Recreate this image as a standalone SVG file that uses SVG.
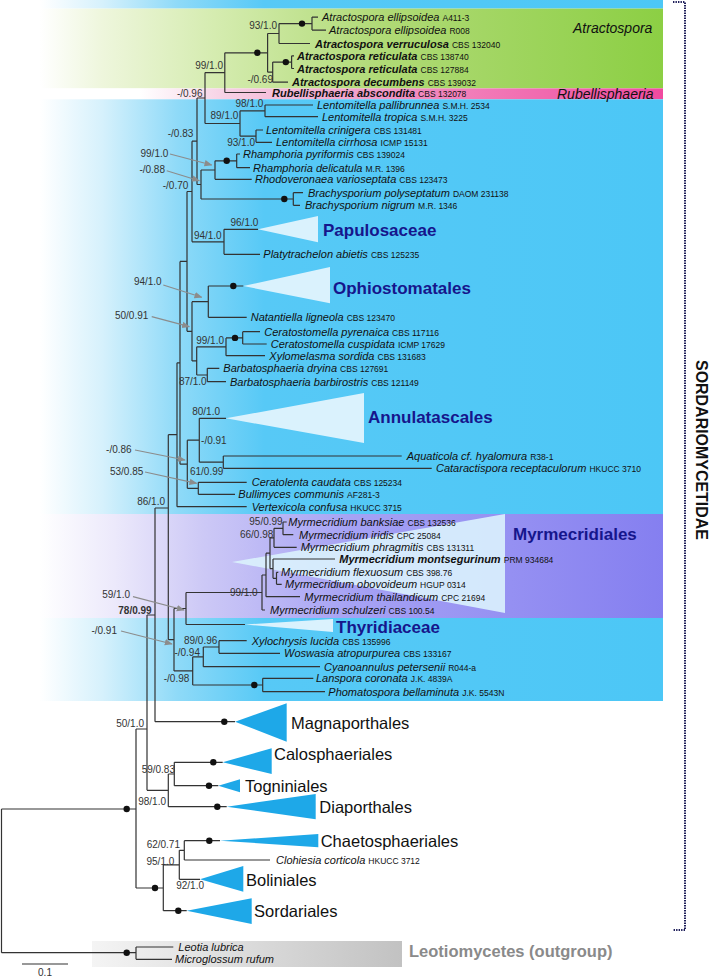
<svg xmlns="http://www.w3.org/2000/svg" width="709" height="976" viewBox="0 0 709 976">
<defs>
<linearGradient id="gBlue" gradientUnits="userSpaceOnUse" x1="40" y1="0" x2="663" y2="0">
<stop offset="0" stop-color="#ffffff"/><stop offset="0.1" stop-color="#d6f1fc"/><stop offset="0.22" stop-color="#8fdaf8"/><stop offset="0.36" stop-color="#57c9f6"/><stop offset="1" stop-color="#4cc7f6"/>
</linearGradient>
<linearGradient id="gGreen" gradientUnits="userSpaceOnUse" x1="40" y1="0" x2="663" y2="0">
<stop offset="0" stop-color="#ffffff"/><stop offset="0.1" stop-color="#eef6dc"/><stop offset="0.28" stop-color="#d5ecb0"/><stop offset="0.55" stop-color="#b0da76"/><stop offset="1" stop-color="#8ccf44"/>
</linearGradient>
<linearGradient id="gPink" gradientUnits="userSpaceOnUse" x1="40" y1="0" x2="663" y2="0">
<stop offset="0" stop-color="#ffffff"/><stop offset="0.16" stop-color="#ffffff"/><stop offset="0.3" stop-color="#f6d0e4"/><stop offset="0.6" stop-color="#f28cc0"/><stop offset="1" stop-color="#f04a9f"/>
</linearGradient>
<linearGradient id="gPurple" gradientUnits="userSpaceOnUse" x1="40" y1="0" x2="663" y2="0">
<stop offset="0" stop-color="#ffffff"/><stop offset="0.12" stop-color="#ece9fb"/><stop offset="0.26" stop-color="#cdc9f6"/><stop offset="0.5" stop-color="#a6a2f4"/><stop offset="1" stop-color="#857ff0"/>
</linearGradient>
<linearGradient id="gGray" gradientUnits="userSpaceOnUse" x1="92" y1="0" x2="402" y2="0">
<stop offset="0" stop-color="#f4f4f4"/><stop offset="1" stop-color="#c2c2c2"/>
</linearGradient>
<marker id="ah" viewBox="0 0 10 10" refX="9" refY="5" markerWidth="8" markerHeight="8" markerUnits="userSpaceOnUse" orient="auto">
<path d="M0,1 L10,5 L0,9 z" fill="#8c8c8c"/>
</marker>
</defs>
<style>
text{font-family:"Liberation Sans",Arial,sans-serif}
.br{fill:none;stroke:#333;stroke-width:1.2}
.dot{fill:#111}
.sp{font-size:11px;font-style:italic;fill:#111}
.cd{font-size:8.5px;font-style:normal}
.b{font-weight:bold}
.sv{font-size:10px;fill:#333;text-anchor:end}
.clade{font-size:17px;font-weight:bold;fill:#16168c}
.ord{font-size:16.5px;fill:#111}
.grp{font-size:14px;font-style:italic;fill:#111}
.pale{fill:#daf2fd}
.solid{fill:#1ea8e8}
.arr{stroke:#8c8c8c;stroke-width:1.2;fill:none;marker-end:url(#ah)}
</style>

<g id="backgrounds">
<rect x="40" y="0" width="623" height="8.6" fill="url(#gBlue)"/>
<rect x="40" y="8.6" width="623" height="79.8" fill="url(#gGreen)"/>
<rect x="40" y="88.4" width="623" height="10.9" fill="url(#gPink)"/>
<rect x="40" y="99.3" width="623" height="414.7" fill="url(#gBlue)"/>
<rect x="40" y="514" width="623" height="104" fill="url(#gPurple)"/>
<rect x="40" y="618" width="623" height="83" fill="url(#gBlue)"/>
<rect x="92" y="941" width="310" height="26" fill="url(#gGray)"/>
</g>

<g id="clade-triangles">
<polygon class="pale" points="258,229.3 318,216 318,242.3"/>
<polygon class="pale" points="243.3,286 330,267 330,303.3"/>
<polygon class="pale" points="226,418.3 364,393 364,443"/>
<polygon class="pale" points="232,562 505,514 505,613" opacity="0.9"/>
<polygon class="pale" points="245,624.5 333,619 333,632"/>
<polygon class="solid" points="235,721.7 286.7,703.3 286.7,741.7"/>
<polygon class="solid" points="222.7,762.3 271.7,748.3 271.7,774"/>
<polygon class="solid" points="218.3,785.7 240,779.3 240,792.3"/>
<polygon class="solid" points="226.7,806.7 315.7,794 315.7,819.3"/>
<polygon class="solid" points="220,840.7 318.3,834 318.3,847.3"/>
<polygon class="solid" points="200,879.3 243.3,866 243.3,891.7"/>
<polygon class="solid" points="186.7,910.7 251.7,898.3 251.7,924"/>
</g>

<g id="connectors">
<path class="br" d="M312 17.1V30.1M312 17.1H318M312 30.1H326
M279 23.6V43.5M279 23.6H312M279 43.5H310
M291.6 55.8V68.5M291.6 55.8H294M291.6 68.5H294
M272.7 62.1V82.2M272.7 62.1H291.6M272.7 82.2H288
M267.6 33.5V72.2M267.6 33.5H279M267.6 72.2H272.7
M224.8 52.8V92.5M224.8 52.8H267.6M224.8 92.5H266
M205 72.6V123.5M205 72.6H224.8M205 123.5H240
M265 105V116.7M265 105H313M265 116.7H318
M256 130V142.3M256 130H263M256 142.3H272
M240 110.8V136.2M240 110.8H265M240 136.2H256
M197 98V184.5M197 98H205M197 184.5H201
M236.7 154V167.7M236.7 154H240M236.7 167.7H250
M215 160.8V179.3M215 160.8H236.7M215 179.3H251.7
M293.3 192.7V205.3M293.3 192.7H303M293.3 205.3H300
M201 170V199M201 170H215M201 199H293.3
M192 141.2V241.8M192 141.2H197M192 241.8H224
M224 229.3V254.3M224 229.3H258M224 254.3H260
M187 191.5V331.3M187 191.5H192M187 331.3H192
M208.3 286V317.3M208.3 286H243.3M208.3 317.3H246.7
M242.7 331.7V344M242.7 331.7H260M242.7 344H266.7
M226 337.9V355.7M226 337.9H242.7M226 355.7H265
M207.3 368.3V381.7M207.3 368.3H219.3M207.3 381.7H226
M196.7 346.8V375M196.7 346.8H226M196.7 375H207.3
M192 301.7V360.9M192 301.7H208.3M192 360.9H196.7
M180 261.4V464.2M180 261.4H187M180 464.2H187.3
M199.3 418.3V462.2M199.3 418.3H226M199.3 462.2H223.3
M223.3 456V468.3M223.3 456H401.7M223.3 468.3H431.7
M198.3 482.3V494.3M198.3 482.3H246.7M198.3 494.3H235
M187.3 440.2V488.3M187.3 440.2H199.3M187.3 488.3H198.3
M177 362.8V506.7M177 362.8H180M177 506.7H246.7
M168.3 434.7V639.7M168.3 434.7H177M168.3 639.7H174
M283 522V534.7M283 522H286.7M283 534.7H293.3
M274 528.3V547.3M274 528.3H283M274 547.3H296.7
M276.5 572.3V584.3M276.5 572.3H278.3M276.5 584.3H281.7
M273 559V578.3M273 559H335M273 578.3H276.5
M270 537.8V568.7M270 537.8H274M270 568.7H273
M266 553.2V596.7M266 553.2H270M266 596.7H300
M262 575V610M262 575H266M262 610H265
M186 592.5V624.5M186 592.5H262M186 624.5H245
M219 640.7V653.3M219 640.7H246.7M219 653.3H280
M203.3 647V666.7M203.3 647H219M203.3 666.7H320
M262.7 678.3V691.7M262.7 678.3H313.3M262.7 691.7H325
M192.7 656.8V685M192.7 656.8H203.3M192.7 685H262.7
M174 608.5V670.9M174 608.5H186M174 670.9H192.7
M155 508V721.7M155 508H168.3M155 721.7H235
M147 615V790.3M147 615H155M147 790.3H168.3
M168.3 774V806.7M168.3 774H174.3M168.3 806.7H226.7
M174.3 762.3V785.7M174.3 762.3H222.7M174.3 785.7H218.3
M136 729V888M136 729H147M136 888H163.3
M184.3 840.7V860M184.3 840.7H220M184.3 860H270
M179.3 850.3V879.3M179.3 850.3H184.3M179.3 879.3H200
M163.3 864.8V910.7M163.3 864.8H179.3M163.3 910.7H186.7
M1.5 809V952.7M1.5 809H136M1.5 952.7H136
M136 947V959.3M136 947H173.3M136 959.3H172"/>
<g class="dot">
<circle cx="302" cy="23.6" r="3.2"/><circle cx="285.8" cy="62.1" r="3.2"/><circle cx="257.3" cy="52.8" r="3.2"/>
<circle cx="226.7" cy="160.8" r="3.2"/><circle cx="284.3" cy="199" r="3.2"/><circle cx="233.3" cy="286" r="3.2"/>
<circle cx="235" cy="337.9" r="3.2"/><circle cx="254.3" cy="685" r="3.2"/><circle cx="224.3" cy="721.7" r="3.2"/>
<circle cx="213.3" cy="762.3" r="3.2"/><circle cx="209" cy="785.7" r="3.2"/><circle cx="217.3" cy="806.7" r="3.2"/>
<circle cx="126.7" cy="809" r="3.2"/><circle cx="209.3" cy="840.7" r="3.2"/><circle cx="155" cy="888" r="3.2"/>
<circle cx="178.3" cy="910.7" r="3.2"/><circle cx="126.7" cy="952.7" r="3.2"/>
</g>
<path class="arr" d="M170 154L211.7 165"/>
<path class="arr" d="M166.7 170.7L199.3 180.7"/>
<path class="arr" d="M163.3 285L201.7 297.3"/>
<path class="arr" d="M151.7 316.7L189.3 326.7"/>
<path class="arr" d="M135 450L185 460"/>
<path class="arr" d="M145 472L196.7 483.3"/>
<path class="arr" d="M133 596.7L184 610"/>
<path class="arr" d="M121 631L172 644"/>
<path d="M22 964H68" stroke="#333" stroke-width="1.2"/>
</g>

<g id="support-values">
<text class="sv" x="277" y="29.2">93/1.0</text>
<text class="sv" x="223" y="68.5">99/1.0</text>
<text class="sv" x="273" y="83">-/0.69</text>
<text class="sv" x="202.5" y="96.5">-/0.96</text>
<text class="sv" x="263.3" y="106.8">98/1.0</text>
<text class="sv" x="238.3" y="118.5">89/1.0</text>
<text class="sv" x="193.3" y="136.8">-/0.83</text>
<text class="sv" x="255" y="145.8">93/1.0</text>
<text class="sv" x="168.3" y="156.8">99/1.0</text>
<text class="sv" x="165" y="172.8">-/0.88</text>
<text class="sv" x="188.3" y="189.2">-/0.70</text>
<text class="sv" x="258.3" y="226.2">96/1.0</text>
<text class="sv" x="221.7" y="238.5">94/1.0</text>
<text class="sv" x="161.7" y="285.2">94/1.0</text>
<text class="sv" x="148.3" y="318.5">50/0.91</text>
<text class="sv" x="224" y="343.5">99/1.0</text>
<text class="sv" x="206.7" y="385.2">87/1.0</text>
<text class="sv" x="220" y="415.2">80/1.0</text>
<text class="sv" x="226.7" y="443.5">-/0.91</text>
<text class="sv" x="131.7" y="452.8">-/0.86</text>
<text class="sv" x="143.3" y="474.5">53/0.85</text>
<text class="sv" x="223.3" y="474.5">61/0.99</text>
<text class="sv" x="165" y="505.2">86/1.0</text>
<text class="sv" x="282.7" y="525.2">95/0.99</text>
<text class="sv" x="273.3" y="537.8">66/0.98</text>
<text class="sv" x="257.7" y="595.8">99/1.0</text>
<text class="sv" x="130" y="597.8">59/1.0</text>
<text class="sv b" x="151.7" y="614.2">78/0.99</text>
<text class="sv" x="117" y="633.5">-/0.91</text>
<text class="sv" x="217.3" y="644.2">89/0.96</text>
<text class="sv" x="200" y="656.2">-/0.94</text>
<text class="sv" x="189.3" y="681.8">-/0.98</text>
<text class="sv" x="144" y="726.5">50/1.0</text>
<text class="sv" x="175" y="772.8">59/0.83</text>
<text class="sv" x="166" y="804.5">98/1.0</text>
<text class="sv" x="180" y="847.5">62/0.71</text>
<text class="sv" x="174.3" y="865.2">95/1.0</text>
<text class="sv" x="204" y="888.5">92/1.0</text>
</g>

<g id="taxa">
<g id="t01"><text class="sp" x="322" y="21.1">Atractospora ellipsoidea <tspan class="cd">A411-3</tspan></text></g>
<g id="t02"><text class="sp" x="329" y="34.1">Atractospora ellipsoidea <tspan class="cd">R008</tspan></text></g>
<g id="t03"><text class="sp" x="315" y="47.5"><tspan class="b">Atractospora verruculosa</tspan> <tspan class="cd">CBS 132040</tspan></text></g>
<g id="t04"><text class="sp" x="297" y="59.8"><tspan class="b">Atractospora reticulata</tspan> <tspan class="cd">CBS 138740</tspan></text></g>
<g id="t05"><text class="sp" x="297" y="72.5"><tspan class="b">Atractospora reticulata</tspan> <tspan class="cd">CBS 127884</tspan></text></g>
<g id="t06"><text class="sp" x="292" y="86.2"><tspan class="b">Atractospora decumbens</tspan> <tspan class="cd">CBS 139032</tspan></text></g>
<g id="t07"><text class="sp" x="272" y="96.5"><tspan class="b">Rubellisphaeria abscondita</tspan> <tspan class="cd">CBS 132078</tspan></text></g>
<g id="t08"><text class="sp" x="317" y="109">Lentomitella pallibrunnea <tspan class="cd">S.M.H. 2534</tspan></text></g>
<g id="t09"><text class="sp" x="322" y="120.7">Lentomitella tropica <tspan class="cd">S.M.H. 3225</tspan></text></g>
<g id="t10"><text class="sp" x="266" y="134">Lentomitella crinigera <tspan class="cd">CBS 131481</tspan></text></g>
<g id="t11"><text class="sp" x="276" y="146.3">Lentomitella cirrhosa <tspan class="cd">ICMP 15131</tspan></text></g>
<g id="t12"><text class="sp" x="243" y="158">Rhamphoria pyriformis <tspan class="cd">CBS 139024</tspan></text></g>
<g id="t13"><text class="sp" x="253" y="171.7">Rhamphoria delicatula <tspan class="cd">M.R. 1396</tspan></text></g>
<g id="t14"><text class="sp" x="255" y="183.3">Rhodoveronaea varioseptata <tspan class="cd">CBS 123473</tspan></text></g>
<g id="t15"><text class="sp" x="308" y="196.7">Brachysporium polyseptatum <tspan class="cd">DAOM 231138</tspan></text></g>
<g id="t16"><text class="sp" x="305" y="209.3">Brachysporium nigrum <tspan class="cd">M.R. 1346</tspan></text></g>
<g id="t17"><text class="sp" x="263.3" y="258.3">Platytrachelon abietis <tspan class="cd">CBS 125235</tspan></text></g>
<g id="t18"><text class="sp" x="250.7" y="321.3">Natantiella ligneola <tspan class="cd">CBS 123470</tspan></text></g>
<g id="t19"><text class="sp" x="264.3" y="335.7">Ceratostomella pyrenaica <tspan class="cd">CBS 117116</tspan></text></g>
<g id="t20"><text class="sp" x="270.7" y="348">Ceratostomella cuspidata <tspan class="cd">ICMP 17629</tspan></text></g>
<g id="t21"><text class="sp" x="269.3" y="359.7">Xylomelasma sordida <tspan class="cd">CBS 131683</tspan></text></g>
<g id="t22"><text class="sp" x="223.3" y="372.3">Barbatosphaeria dryina <tspan class="cd">CBS 127691</tspan></text></g>
<g id="t23"><text class="sp" x="230" y="385.7">Barbatosphaeria barbirostris <tspan class="cd">CBS 121149</tspan></text></g>
<g id="t24"><text class="sp" x="406.7" y="460">Aquaticola cf. hyalomura <tspan class="cd">R38-1</tspan></text></g>
<g id="t25"><text class="sp" x="436" y="472.3">Cataractispora receptaculorum <tspan class="cd">HKUCC 3710</tspan></text></g>
<g id="t26"><text class="sp" x="251.7" y="486.3">Ceratolenta caudata <tspan class="cd">CBS 125234</tspan></text></g>
<g id="t27"><text class="sp" x="238.3" y="498.3">Bullimyces communis <tspan class="cd">AF281-3</tspan></text></g>
<g id="t28"><text class="sp" x="251.7" y="510.7">Vertexicola confusa <tspan class="cd">HKUCC 3715</tspan></text></g>
<g id="t29"><text class="sp" x="288.3" y="526">Myrmecridium banksiae <tspan class="cd">CBS 132536</tspan></text></g>
<g id="t30"><text class="sp" x="299" y="538.7">Myrmecridium iridis <tspan class="cd">CPC 25084</tspan></text></g>
<g id="t31"><text class="sp" x="300.7" y="551.3">Myrmecridium phragmitis <tspan class="cd">CBS 131311</tspan></text></g>
<g id="t32"><text class="sp" x="339.3" y="563"><tspan class="b">Myrmecridium montsegurinum</tspan> <tspan class="cd">PRM 934684</tspan></text></g>
<g id="t33"><text class="sp" x="281" y="576.3">Myrmecridium flexuosum <tspan class="cd">CBS 398.76</tspan></text></g>
<g id="t34"><text class="sp" x="285" y="588.3">Myrmecridium obovoideum <tspan class="cd">HGUP 0314</tspan></text></g>
<g id="t35"><text class="sp" x="304.3" y="600.7">Myrmecridium thailandicum <tspan class="cd">CPC 21694</tspan></text></g>
<g id="t36"><text class="sp" x="270" y="614">Myrmecridium schulzeri <tspan class="cd">CBS 100.54</tspan></text></g>
<g id="t37"><text class="sp" x="251.7" y="644.7">Xylochrysis lucida <tspan class="cd">CBS 135996</tspan></text></g>
<g id="t38"><text class="sp" x="284" y="657.3">Woswasia atropurpurea <tspan class="cd">CBS 133167</tspan></text></g>
<g id="t39"><text class="sp" x="324" y="670.7">Cyanoannulus petersenii <tspan class="cd">R044-a</tspan></text></g>
<g id="t40"><text class="sp" x="316" y="682.3">Lanspora coronata <tspan class="cd">J.K. 4839A</tspan></text></g>
<g id="t41"><text class="sp" x="328.3" y="695.7">Phomatospora bellaminuta <tspan class="cd">J.K. 5543N</tspan></text></g>
<g id="t42"><text class="sp" x="276" y="864">Clohiesia corticola <tspan class="cd">HKUCC 3712</tspan></text></g>
<g id="t43"><text class="sp" x="178.3" y="951">Leotia lubrica</text></g>
<g id="t44"><text class="sp" x="175" y="963.3">Microglossum rufum</text></g>
</g>

<g id="clades">
<g id="c-atractospora"><text class="grp" x="573" y="33">Atractospora</text></g>
<g id="c-rubellisphaeria"><text class="grp" x="557" y="99">Rubellisphaeria</text></g>
<g id="c-papulosaceae"><text class="clade" x="323" y="236">Papulosaceae</text></g>
<g id="c-ophiostomatales"><text class="clade" x="333" y="294">Ophiostomatales</text></g>
<g id="c-annulatascales"><text class="clade" x="368" y="423">Annulatascales</text></g>
<g id="c-myrmecridiales"><text class="clade" x="513" y="540">Myrmecridiales</text></g>
<g id="c-thyridiaceae"><text class="clade" x="336" y="633">Thyridiaceae</text></g>
<g id="c-magnaporthales"><text class="ord" x="291" y="729">Magnaporthales</text></g>
<g id="c-calosphaeriales"><text class="ord" x="274" y="760">Calosphaeriales</text></g>
<g id="c-togniniales"><text class="ord" x="245" y="791.7">Togniniales</text></g>
<g id="c-diaporthales"><text class="ord" x="319.3" y="813">Diaporthales</text></g>
<g id="c-chaetosphaeriales"><text class="ord" x="320.7" y="846.7">Chaetosphaeriales</text></g>
<g id="c-boliniales"><text class="ord" x="246" y="886">Boliniales</text></g>
<g id="c-sordariales"><text class="ord" x="254" y="916.7">Sordariales</text></g>
<g id="c-outgroup"><text x="409" y="957" font-size="16.5" font-weight="bold" fill="#8a8a8a">Leotiomycetes (outgroup)</text></g>
</g>

<g id="subclass">
<path d="M673 2H685V930H673" fill="none" stroke="#1e1e5a" stroke-width="2" stroke-dasharray="1.4 1.1"/>
<text transform="translate(695.5,450) rotate(90)" text-anchor="middle" font-size="17" font-weight="bold" fill="#111" textLength="180" lengthAdjust="spacingAndGlyphs">SORDARIOMYCETIDAE</text>
</g>

<g id="scale">
<text x="45" y="975.5" font-size="10" fill="#333" text-anchor="middle">0.1</text>
</g>
</svg>
